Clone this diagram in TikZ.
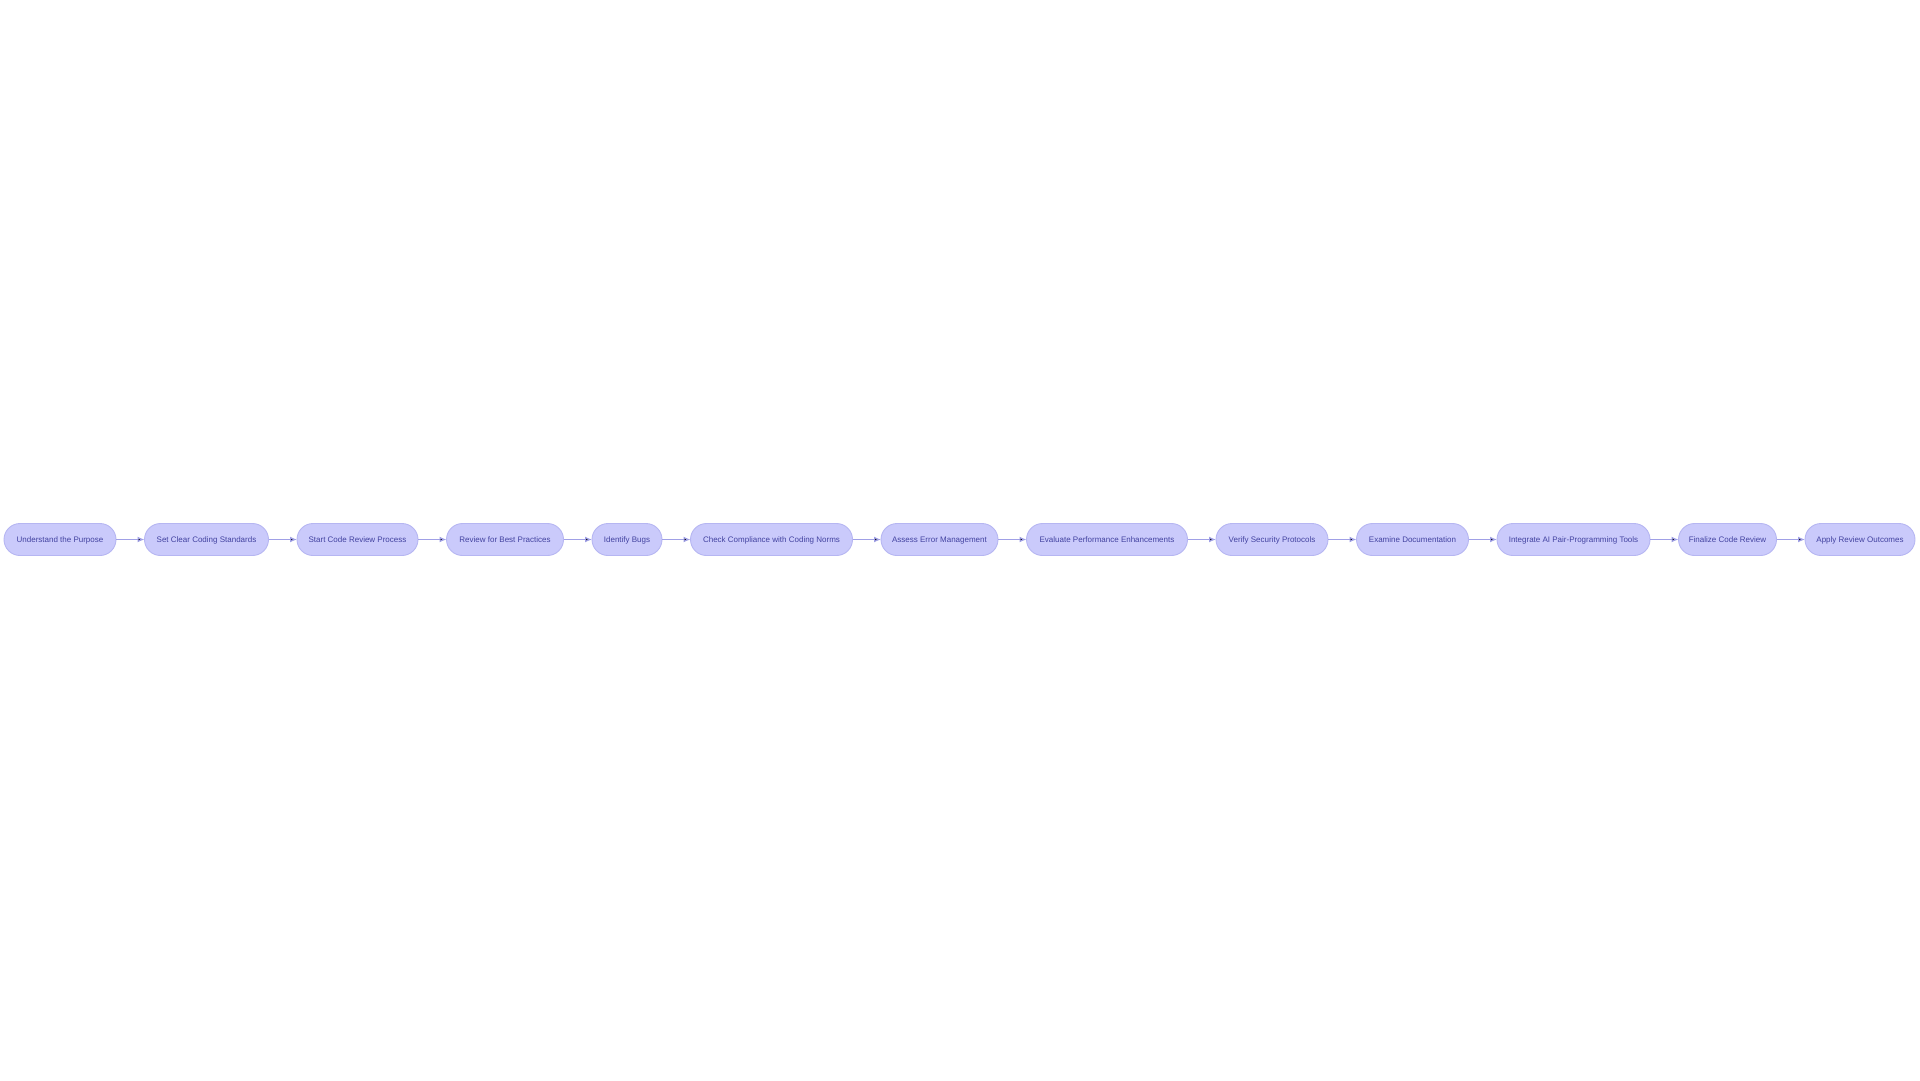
\documentclass[tikz,border=0pt]{standalone}
\usepackage{fontspec}
\setmainfont{Liberation Sans}
\usepackage{xcolor}
\usepackage{tikz}
\usetikzlibrary{arrows.meta,shapes,positioning,calc}

\definecolor{stepfill}{RGB}{202,202,251}
\definecolor{stepline}{RGB}{182,182,242}
\definecolor{steptext}{RGB}{66,66,160}
\definecolor{steparrow}{RGB}{160,160,230}

\begin{document}
\begin{tikzpicture}[x=1pt,y=-1pt,node distance=28.5pt,
	-{Latex[length=7pt,width=6pt]}]
	\tikzstyle{every node}=[draw=stepline,line width=0.9pt,fill=stepfill,text=steptext,
		rounded corners=16pt,minimum height=32pt,inner xsep=3pt,outer sep=0pt,
		text height=6.5pt,text depth=0.7pt,
		font=\fontsize{8}{10}\selectfont]
	\useasboundingbox (0,0) rectangle (1920,1080);
	
	\node[minimum width=112pt](0) at (60,539.5){Understand the Purpose};
	\node[minimum width=124pt](1)[right=of 0]{Set Clear Coding Standards};
	\node[minimum width=121pt](2)[right=of 1]{Start Code Review Process};
	\node[minimum width=117pt](3)[right=of 2]{Review for Best Practices};
	\node[minimum width=70pt](4)[right=of 3]{Identify Bugs};
	\node[minimum width=162pt](5)[right=of 4]{Check Compliance with Coding Norms};
	\node[minimum width=117pt](6)[right=of 5]{Assess Error Management};
	\node[minimum width=161pt](7)[right=of 6]{Evaluate Performance Enhancements};
	\node[minimum width=112pt](8)[right=of 7]{Verify Security Protocols};
	\node[minimum width=112pt](9)[right=of 8]{Examine Documentation};
	\node[minimum width=153pt](10)[right=of 9]{Integrate AI Pair-Programming Tools};
	\node[minimum width=98pt](11)[right=of 10]{Finalize Code Review};
	\node[minimum width=110pt](12)[right=of 11]{Apply Review Outcomes};
	
	\path[draw=steparrow,line width=1.2pt] (0) edge (1);
	\path[draw=steparrow,line width=1.2pt] (1) edge (2);
	\path[draw=steparrow,line width=1.2pt] (2) edge (3);
	\path[draw=steparrow,line width=1.2pt] (3) edge (4);
	\path[draw=steparrow,line width=1.2pt] (4) edge (5);
	\path[draw=steparrow,line width=1.2pt] (5) edge (6);
	\path[draw=steparrow,line width=1.2pt] (6) edge (7);
	\path[draw=steparrow,line width=1.2pt] (7) edge (8);
	\path[draw=steparrow,line width=1.2pt] (8) edge (9);
	\path[draw=steparrow,line width=1.2pt] (9) edge (10);
	\path[draw=steparrow,line width=1.2pt] (10) edge (11);
	\path[draw=steparrow,line width=1.2pt] (11) edge (12);
\end{tikzpicture}
\end{document}
